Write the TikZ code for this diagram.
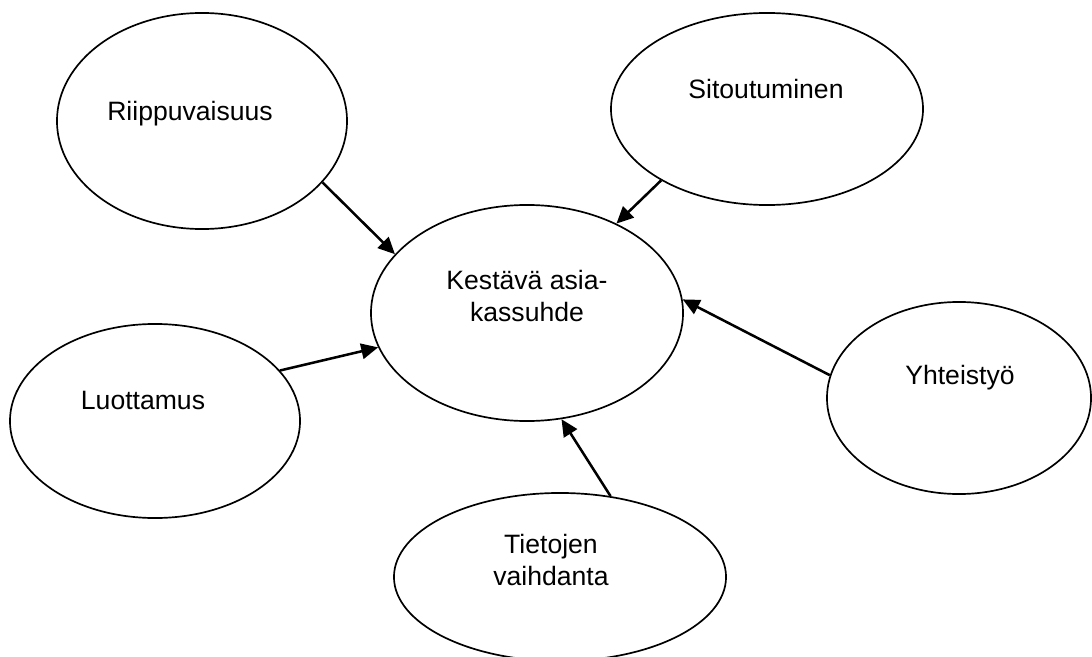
\documentclass[tikz,border=0pt]{standalone}
\usepackage{fontspec}
\setmainfont{Liberation Sans}
\usepackage{tikz}
\usetikzlibrary{shapes.geometric,arrows.meta}
\tikzstyle{bubble} = [ellipse, draw=black, line width=1.2pt, inner sep=0pt]
\tikzstyle{lbl}    = [font=\fontsize{18.9}{22.6}\selectfont, align=center]
\tikzstyle{arrow}  = [line width=1.8pt, -{Triangle[length=12pt,width=11pt]}]

\begin{document}
\begin{tikzpicture}[x=0.025cm,y=-0.025cm]
        \useasboundingbox (0,0) rectangle (1092,657);

        \node[bubble, minimum width=7.8cm, minimum height=5.4cm] (suhde) at (527,313) {};
        \node[lbl] (suhdetext) at (527,296) {Kestävä asia-\\kassuhde};

        \node[bubble, minimum width=7.25cm, minimum height=5.4cm] (riip) at (202,121) {};
        \node[lbl] (riiptext) at (190,114) {Riippuvaisuus};

        \node[bubble, minimum width=7.8cm, minimum height=4.8cm] (sito) at (767,109) {};
        \node[lbl] (sitotext) at (766,89) {Sitoutuminen};

        \node[bubble, minimum width=7.25cm, minimum height=4.85cm] (luot) at (155,421) {};
        \node[lbl] (luottext) at (143,400) {Luottamus};

        \node[bubble, minimum width=6.6cm, minimum height=4.8cm] (yht) at (959,398) {};
        \node[lbl] (yhttext) at (960,378) {Yhteistyö};

        \node[bubble, minimum width=8.3cm, minimum height=4.2cm] (tiet) at (560,577) {};
        \node[lbl] (tiettext) at (551,560) {Tietojen\\vaihdanta};

        \draw[arrow] (riip.-27) -- (suhde.156);
        \draw[arrow] (sito.214) -- (suhde.45);
        \draw[arrow] (luot.22) -- (suhde.193);
        \draw[arrow] (yht.170) -- (suhde.5);
        \draw[arrow] (tiet.58) -- (suhde.-72);
    \end{tikzpicture}
\end{document}
